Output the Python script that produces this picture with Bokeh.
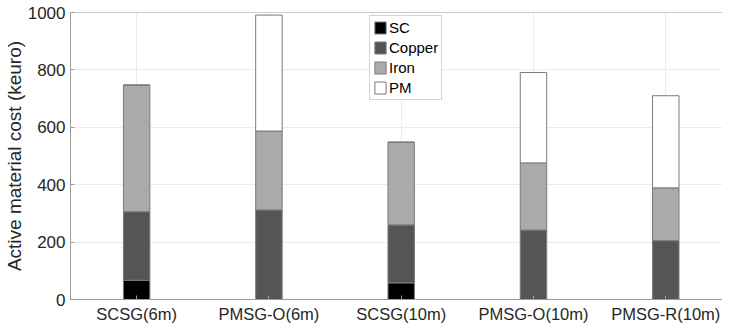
from bokeh.plotting import figure
from bokeh.models import ColumnDataSource, Range1d, FixedTicker, Legend, Span
from bokeh.embed import file_html
from bokeh.resources import INLINE

categories = ["SCSG(6m)", "PMSG-O(6m)", "SCSG(10m)", "PMSG-O(10m)", "PMSG-R(10m)"]
positions = [1, 2, 3, 4, 5]
sc = [67, 0, 58, 0, 0]
copper = [239, 312, 202, 242, 205]
iron = [441, 275, 288, 234, 184]
pm = [0, 404, 0, 315, 321]
materials = ["SC", "Copper", "Iron", "PM"]
colors = ["#000000", "#555555", "#aaaaaa", "#ffffff"]
y_ticks = [0, 200, 400, 600, 800, 1000]
y_max = 1000

source = ColumnDataSource(dict(x=positions, SC=sc, Copper=copper, Iron=iron, PM=pm))

FONT = "Liberation Sans"
AXC = "#9a9a9a"
TXT = "#262626"

p = figure(width=722, height=325, output_backend="svg", toolbar_location=None,
           x_range=Range1d(0.5, 0.5 + 658 / 133.5), y_range=Range1d(0, y_max),
           min_border_left=64, min_border_right=0, min_border_top=12, min_border_bottom=22)

rs = p.vbar_stack(materials, x="x", width=0.2, color=colors, source=source,
                  line_color="#7a7a7a", line_width=1)

xt = FixedTicker(ticks=positions)
p.xaxis.ticker = xt
p.xaxis.major_label_overrides = {pos: c for pos, c in zip(positions, categories)}
p.yaxis.ticker = FixedTicker(ticks=y_ticks)
p.yaxis.axis_label = "Active material cost (keuro)"

for ax in (p.xaxis[0], p.yaxis[0]):
    ax.axis_line_color = AXC
    ax.major_tick_line_color = AXC
    ax.major_tick_in = 4
    ax.major_tick_out = 0
    ax.minor_tick_line_color = None
    ax.major_label_text_font = FONT
    ax.major_label_text_font_size = "17px"
    ax.major_label_text_color = TXT
    ax.axis_label_text_font = FONT
    ax.axis_label_text_font_size = "19px"
    ax.axis_label_text_font_style = "normal"
    ax.axis_label_text_color = TXT
p.xaxis.major_label_text_font_size = "16.5px"
p.xaxis.major_label_standoff = 5
p.yaxis.major_label_standoff = 5
p.yaxis.axis_label_standoff = 0

p.add_layout(Span(location=y_max, dimension="width", line_color=AXC, line_width=1))

p.outline_line_color = None
p.xgrid.grid_line_color = "#ebebeb"
p.ygrid.grid_line_color = "#ebebeb"
p.xgrid.ticker = xt

legend = Legend(items=[(m, [r]) for m, r in zip(materials, rs)],
                location=(299, 199), orientation="vertical",
                label_text_font=FONT, label_text_font_size="15px", label_text_color="#000000",
                glyph_width=14, glyph_height=15, label_height=15, label_standoff=2,
                spacing=3, padding=3, margin=0,
                border_line_color="#a8a8a8", border_line_width=1,
                background_fill_color="white", background_fill_alpha=1)
p.add_layout(legend, "center")

open("out.html", "w").write(file_html(p, INLINE))
